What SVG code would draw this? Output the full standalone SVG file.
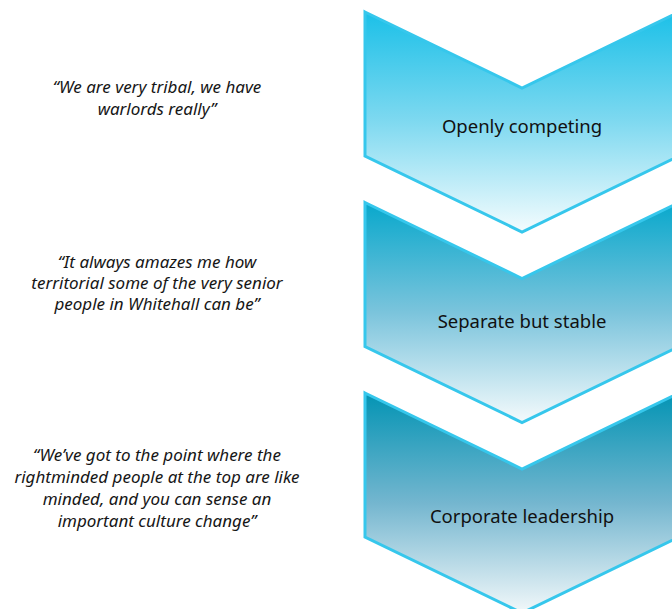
<svg xmlns="http://www.w3.org/2000/svg" width="672" height="609" viewBox="0 0 672 609">
  <defs>
    <linearGradient id="gradA" x1="0" y1="0" x2="0" y2="1">
      <stop offset="0" stop-color="#1bc0e8"/>
      <stop offset="0.5" stop-color="#7fd9f0"/>
      <stop offset="1" stop-color="#f4fcfe"/>
    </linearGradient>
    <linearGradient id="gradB" x1="0" y1="0" x2="0" y2="1">
      <stop offset="0" stop-color="#08a8cc"/>
      <stop offset="0.5" stop-color="#7bc4dc"/>
      <stop offset="1" stop-color="#f4fafc"/>
    </linearGradient>
    <linearGradient id="gradC" x1="0" y1="0" x2="0" y2="1">
      <stop offset="0" stop-color="#0394b4"/>
      <stop offset="0.5" stop-color="#74b6cf"/>
      <stop offset="1" stop-color="#f2f8fa"/>
    </linearGradient>
    <!-- one chevron outline, placed three times -->
    <path id="chevron" d="M0,0 L157,76 L314,0 L314,144 L157,220 L0,144 Z"/>
  </defs>
  <style>
    .chev { stroke: #36c7ec; stroke-width: 3; stroke-linejoin: miter; }
    .label { font-family: "Noto Sans", "Open Sans", sans-serif; font-size: 18.5px; fill: #111; text-anchor: middle; }
    .quote { font-family: "Noto Sans", "Open Sans", sans-serif; font-style: italic; font-size: 17px; fill: #161616; text-anchor: middle; }
  </style>

  <rect width="672" height="609" fill="#ffffff"/>

  <g id="stage-openly-competing">
    <use href="#chevron" class="chev" fill="url(#gradA)" x="365" y="12"/>
    <text class="label" x="522" y="133">Openly competing</text>
  </g>

  <g id="stage-separate-but-stable">
    <use href="#chevron" class="chev" fill="url(#gradB)" x="365" y="202.5"/>
    <text class="label" x="522" y="328">Separate but stable</text>
  </g>

  <g id="stage-corporate-leadership">
    <use href="#chevron" class="chev" fill="url(#gradC)" x="365" y="393"/>
    <text class="label" x="522" y="523">Corporate leadership</text>
  </g>

  <g id="quote-1">
    <text class="quote" x="157" y="93">“We are very tribal, we have</text>
    <text class="quote" x="157" y="115">warlords really”</text>
  </g>

  <g id="quote-2">
    <text class="quote" x="157" y="268">“It always amazes me how</text>
    <text class="quote" x="157" y="289">territorial some of the very senior</text>
    <text class="quote" x="157" y="310">people in Whitehall can be”</text>
  </g>

  <g id="quote-3">
    <text class="quote" x="157" y="461">“We’ve got to the point where the</text>
    <text class="quote" x="157" y="483">rightminded people at the top are like</text>
    <text class="quote" x="157" y="505">minded, and you can sense an</text>
    <text class="quote" x="157" y="527">important culture change”</text>
  </g>

  <g id="connectors"/>
</svg>
